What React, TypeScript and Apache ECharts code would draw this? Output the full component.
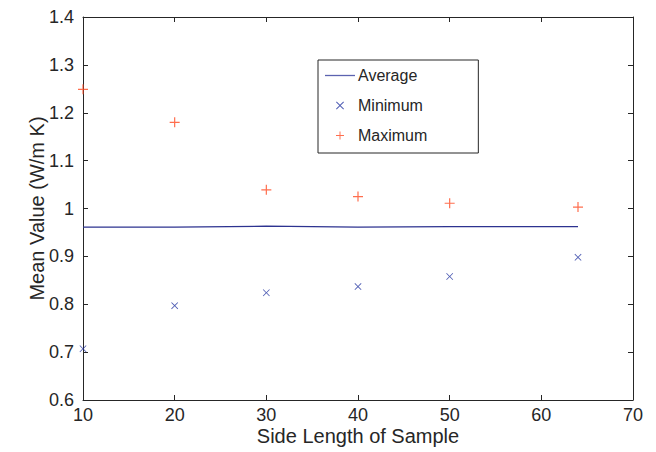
import React, { useEffect, useRef } from "react";
import * as echarts from "echarts";

const sideLengths = [10, 20, 30, 40, 50, 64];
const averageValues = [0.961, 0.961, 0.963, 0.961, 0.962, 0.962];
const minimumValues = [0.707, 0.797, 0.824, 0.837, 0.858, 0.898];
const maximumValues = [1.249, 1.18, 1.039, 1.025, 1.011, 1.003];

const PLUS =
  "path://M0,4.4 L4.4,4.4 L4.4,0 L5.6,0 L5.6,4.4 L10,4.4 L10,5.6 L5.6,5.6 L5.6,10 L4.4,10 L4.4,5.6 L0,5.6 Z";
const XMARK =
  "path://M0.85,0 L5,4.15 L9.15,0 L10,0.85 L5.85,5 L10,9.15 L9.15,10 L5,5.85 L0.85,10 L0,9.15 L4.15,5 L0,0.85 Z";
const LINEICON = "path://M0,0 L30,0 L30,1.3 L0,1.3 Z";

const FONT = "Liberation Sans, Arial, Helvetica, sans-serif";
const TXT = "#262626";

export default function App() {
  const ref = useRef<HTMLDivElement>(null);
  useEffect(() => {
    if (!ref.current) return;
    const chart = echarts.init(ref.current, undefined, { renderer: "svg" });
    const pair = (vals: number[]) => sideLengths.map((x, i) => [x, vals[i]]);
    const axisLine = { show: true, lineStyle: { color: TXT, width: 1 } };
    const tick = { show: true, inside: true, length: 5, lineStyle: { color: TXT } };
    chart.setOption({
      animation: false,
      backgroundColor: "#ffffff",
      textStyle: { fontFamily: FONT },
      grid: { left: 83, right: 23, top: 17, bottom: 52 },
      legend: {
        orient: "vertical",
        left: 318,
        top: 60,
        padding: [7, 51, 9, 7],
        itemGap: 13,
        itemWidth: 30,
        itemHeight: 8,
        symbolKeepAspect: true,
        backgroundColor: "#ffffff",
        borderColor: TXT,
        borderWidth: 1,
        textStyle: { fontSize: 16, color: TXT, lineHeight: 17, fontFamily: FONT, padding: [0, 0, 0, -2] },
        data: [
          { name: "Average", icon: LINEICON, itemStyle: { color: "#5c63b0" } },
          { name: "Minimum", icon: XMARK },
          { name: "Maximum", icon: PLUS },
        ],
      },
      xAxis: [
        {
          type: "value",
          min: 10,
          max: 70,
          interval: 10,
          name: "Side Length of Sample",
          nameLocation: "middle",
          nameGap: 26,
          nameMoveOverlap: false,
          nameTextStyle: { fontSize: 20, color: TXT, fontFamily: FONT },
          axisLine,
          axisTick: tick,
          axisLabel: { fontSize: 18, color: TXT, margin: 6, fontFamily: FONT },
          splitLine: { show: false },
        },
        {
          type: "value",
          position: "top",
          min: 10,
          max: 70,
          interval: 10,
          axisLine,
          axisTick: tick,
          axisLabel: { show: false },
          splitLine: { show: false },
        },
      ],
      yAxis: [
        {
          type: "value",
          min: 0.6,
          max: 1.4,
          interval: 0.1,
          name: "Mean Value (W/m K)",
          nameLocation: "middle",
          nameGap: 36,
          nameMoveOverlap: false,
          nameTextStyle: { fontSize: 20, color: TXT, fontFamily: FONT },
          axisLine,
          axisTick: tick,
          axisLabel: { fontSize: 18, color: TXT, margin: 9, fontFamily: FONT },
          splitLine: { show: false },
        },
        {
          type: "value",
          position: "right",
          min: 0.6,
          max: 1.4,
          interval: 0.1,
          axisLine,
          axisTick: tick,
          axisLabel: { show: false },
          splitLine: { show: false },
        },
      ],
      series: [
        {
          name: "Average",
          type: "line",
          data: pair(averageValues),
          symbol: "none",
          lineStyle: { color: "#2d3390", width: 1.2 },
          itemStyle: { color: "#2d3390" },
        },
        {
          name: "Minimum",
          type: "scatter",
          data: pair(minimumValues),
          symbol: XMARK,
          symbolSize: 7,
          itemStyle: { color: "#2233a0" },
        },
        {
          name: "Maximum",
          type: "scatter",
          data: pair(maximumValues),
          symbol: PLUS,
          symbolSize: 10,
          itemStyle: { color: "#ff4a22" },
        },
      ],
    });
    return () => chart.dispose();
  }, []);
  return <div ref={ref} style={{ width: 656, height: 452, position: "absolute", left: 0, top: 0 }} />;
}
